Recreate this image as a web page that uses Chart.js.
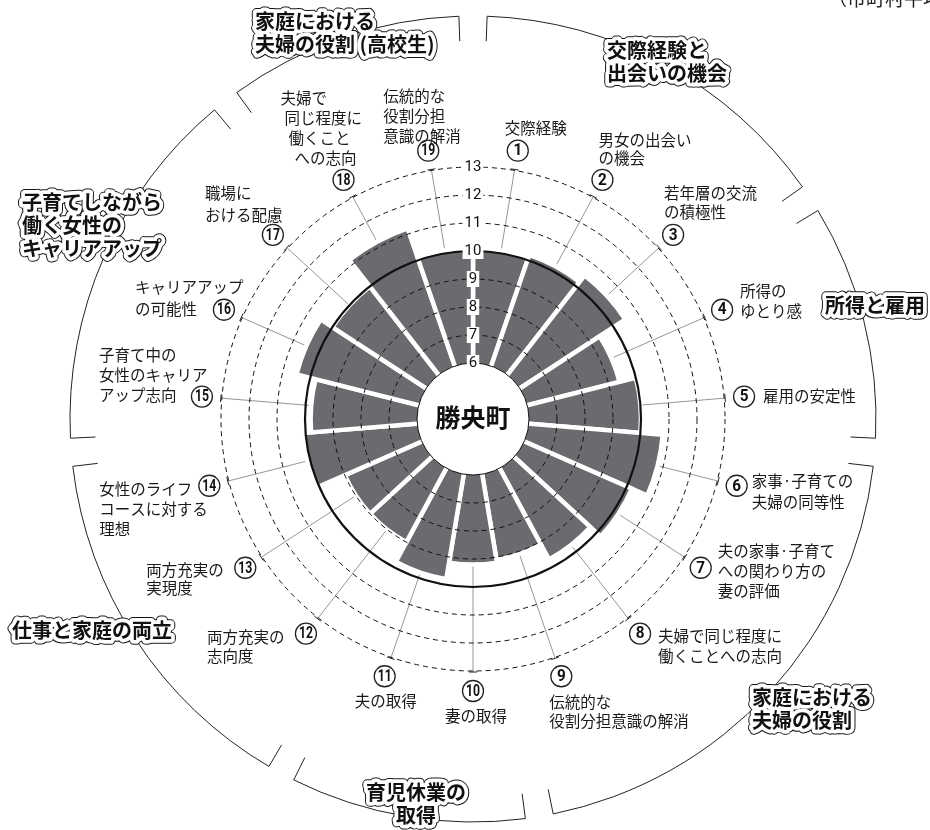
<!DOCTYPE html>
<html lang="ja">
<head>
<meta charset="utf-8">
<title>勝央町</title>
<script src="https://cdn.jsdelivr.net/npm/chart.js@4.4.1/dist/chart.umd.min.js"></script>
<style>
  html, body { margin: 0; padding: 0; background: #fff; }
</style>
</head>
<body>
<canvas id="chart" width="930" height="830"></canvas>
<script>
// 指標（①〜⑲、上から時計回り）
const categories = [
  ['交際経験'],
  ['男女の出会い', 'の機会'],
  ['若年層の交流', 'の積極性'],
  ['所得の', 'ゆとり感'],
  ['雇用の安定性'],
  ['家事·子育ての', '夫婦の同等性'],
  ['夫の家事·子育て', 'への関わり方の', '妻の評価'],
  ['夫婦で同じ程度に', '働くことへの志向'],
  ['伝統的な', '役割分担意識の解消'],
  ['妻の取得'],
  ['夫の取得'],
  ['両方充実の', '志向度'],
  ['両方充実の', '実現度'],
  ['女性のライフ', 'コースに対する', '理想'],
  ['子育て中の', '女性のキャリア', 'アップ志向'],
  ['キャリアアップ', 'の可能性'],
  ['職場に', 'おける配慮'],
  ['夫婦で', '同じ程度に', '働くこと', 'への志向'],
  ['伝統的な', '役割分担', '意識の解消']
];
const values = [10.1, 10.2, 10.5, 9.4, 10.0, 10.8, 10.2, 9.7, 9.1, 9.2, 9.8, 9.0, 9.0, 10.1, 9.8, 10.5, 10.0, 11.2, 10.1];
const tickMin = 6;
const tickMax = 13;
const average = 10;
const townName = '勝央町';
const caption = '（市町村平均＝10）';

// 分野（外周の括弧）
const groupNames = [
  ['交際経験と', '出会いの機会'],
  ['所得と雇用'],
  ['家庭における', '夫婦の役割'],
  ['育児休業の', '取得'],
  ['仕事と家庭の両立'],
  ['子育てしながら', '働く女性の', 'キャリアアップ'],
  ['家庭における', '夫婦の役割 (高校生)']
];
const groupFirst = [0, 3, 5, 9, 11, 14, 17];
const groupLast = [2, 4, 8, 10, 13, 16, 18];

// where the polar area should sit on the page
const centerX = 473.5, centerY = 419, outerRadius = 252;

// label placement relative to the numbered circle
const labelPos = [
  {dx: -13, dy: -23},
  {dx: -4, dy: -40, lh: 18},
  {dx: -9, dy: -42, lh: 19},
  {dx: 18, dy: -19},
  {dx: 19, dy: 0},
  {dx: 15, dy: -5, lh: 21},
  {dx: 17, dy: -17},
  {dx: 18, dy: 2},
  {dx: -12, dy: 26, lh: 19},
  {dx: 3, dy: 25, align: 'center'},
  {dx: 1, dy: 25, align: 'center'},
  {dx: -99, dy: 3, lh: 19},
  {dx: -99, dy: 2, lh: 18},
  {dx: -110, dy: 3},
  {dx: -103, dy: -41},
  {dx: -89, dy: -23, lh: 22},
  {dx: -68, dy: -42, lh: 22},
  {dx: [-63, -59, -55, -49], dy: -82},
  {dx: -45, dy: -55}
];
const groupPos = [
  {x: 607, y: 50},
  {x: 825, y: 305},
  {x: 752, y: 697},
  {x: 416, y: 792, align: 'center'},
  {x: 12, y: 630},
  {x: 22, y: 202},
  {x: 255, y: 21}
];

const TXT = '"Noto Sans CJK JP", sans-serif';

function badge(ctx, x, y, n) {
  ctx.beginPath();
  ctx.arc(x, y, 10.5, 0, Math.PI * 2);
  ctx.fillStyle = '#fff';
  ctx.fill();
  ctx.lineWidth = 1.3;
  ctx.strokeStyle = '#222';
  ctx.stroke();
  ctx.save();
  ctx.translate(x, y + 0.5);
  ctx.scale(n >= 10 ? 0.72 : 0.9, 1);
  ctx.font = 'bold 17px Roboto';
  ctx.textAlign = 'center';
  ctx.textBaseline = 'middle';
  ctx.fillStyle = '#111';
  ctx.fillText(String(n), 0, 0);
  ctx.restore();
}

function haloText(ctx, lines, x, y, lh, align) {
  ctx.font = 'bold 20px ' + TXT;
  ctx.textAlign = align;
  ctx.textBaseline = 'middle';
  ctx.lineJoin = 'round';
  ctx.strokeStyle = '#111';
  ctx.lineWidth = 9.5;
  lines.forEach((t, k) => ctx.strokeText(t, x, y + k * lh));
  ctx.strokeStyle = '#fff';
  ctx.lineWidth = 7.5;
  lines.forEach((t, k) => ctx.strokeText(t, x, y + k * lh));
  ctx.fillStyle = '#111';
  lines.forEach((t, k) => ctx.fillText(t, x, y + k * lh));
}

const overlay = {
  id: 'overlay',
  beforeDatasetsDraw(chart) {
    const s = chart.scales.r, ctx = chart.ctx;
    const r0 = s.getDistanceFromCenterForValue(tickMin);
    const r1 = s.getDistanceFromCenterForValue(tickMax) + 1;
    ctx.save();
    categories.forEach((c, i) => {
      const a = s.getIndexAngle(i + 0.5) - Math.PI / 2;
      const cos = Math.cos(a), sin = Math.sin(a);
      ctx.beginPath();
      ctx.moveTo(s.xCenter + r0 * cos, s.yCenter + r0 * sin);
      ctx.lineTo(s.xCenter + r1 * cos, s.yCenter + r1 * sin);
      ctx.strokeStyle = '#8a8a8a';
      ctx.lineWidth = 0.9;
      ctx.stroke();
      const tx = s.xCenter + r1 * cos, ty = s.yCenter + r1 * sin;
      ctx.beginPath();
      ctx.moveTo(tx - 4 * sin, ty + 4 * cos);
      ctx.lineTo(tx + 4 * sin, ty - 4 * cos);
      ctx.strokeStyle = '#222';
      ctx.lineWidth = 1;
      ctx.stroke();
    });
    ctx.restore();
  },
  afterDatasetsDraw(chart) {
    const s = chart.scales.r, ctx = chart.ctx;
    const r0 = s.getDistanceFromCenterForValue(tickMin);
    ctx.save();
    ctx.beginPath();
    ctx.arc(s.xCenter, s.yCenter, r0, 0, Math.PI * 2);
    ctx.fillStyle = '#fff';
    ctx.fill();
    ctx.font = 'bold 25px ' + TXT;
    ctx.textAlign = 'center';
    ctx.textBaseline = 'middle';
    ctx.fillStyle = '#111';
    ctx.fillText(townName, s.xCenter, s.yCenter - 2);
    ctx.restore();
  },
  afterDraw(chart) {
    const s = chart.scales.r, ctx = chart.ctx;
    const n = categories.length;
    const step = Math.PI * 2 / n;
    const rLab = s.getDistanceFromCenterForValue(tickMax) + 20;
    ctx.save();

    // item labels
    categories.forEach((lines, i) => {
      const a = s.getIndexAngle(i + 0.5) - Math.PI / 2;
      const cx = s.xCenter + rLab * Math.cos(a), cy = s.yCenter + rLab * Math.sin(a);
      badge(ctx, cx, cy, i + 1);
      const p = labelPos[i];
      const lh = p.lh || 20;
      ctx.font = '15.5px ' + TXT;
      ctx.textAlign = p.align || 'left';
      ctx.textBaseline = 'middle';
      ctx.fillStyle = '#1a1a1a';
      lines.forEach((t, k) => {
        const dx = Array.isArray(p.dx) ? p.dx[k] : p.dx;
        ctx.fillText(t, cx + dx, cy + p.dy + k * lh);
      });
    });

    // group brackets
    const R = s.getDistanceFromCenterForValue(tickMax) + 151;
    const pad = 0.035;
    ctx.strokeStyle = '#222';
    ctx.lineWidth = 1;
    groupNames.forEach((g, j) => {
      const a0 = s.getIndexAngle(groupFirst[j]) - Math.PI / 2 + pad;
      const a1 = a0 - 2 * pad + (groupLast[j] - groupFirst[j] + 1) * step;
      ctx.beginPath();
      ctx.moveTo(s.xCenter + (R - 25) * Math.cos(a0), s.yCenter + (R - 25) * Math.sin(a0));
      ctx.arc(s.xCenter, s.yCenter, R, a0, a1);
      ctx.lineTo(s.xCenter + (R - 25) * Math.cos(a1), s.yCenter + (R - 25) * Math.sin(a1));
      ctx.stroke();
    });
    groupNames.forEach((g, j) => {
      const p = groupPos[j];
      haloText(ctx, g, p.x, p.y, 23, p.align || 'left');
    });

    // caption, cut off by the top edge as in the original
    ctx.font = '19px ' + TXT;
    ctx.textAlign = 'left';
    ctx.textBaseline = 'middle';
    ctx.fillStyle = '#222';
    ctx.fillText(caption, 828, -1);
    ctx.restore();
  }
};

const chart = new Chart(document.getElementById('chart'), {
  type: 'polarArea',
  data: {
    labels: categories,
    datasets: [{
      data: values,
      backgroundColor: '#6a6b6f',
      borderColor: '#fff',
      borderWidth: 4.5,
      borderJoinStyle: 'miter'
    }]
  },
  options: {
    responsive: false,
    animation: false,
    devicePixelRatio: 1,
    layout: { padding: { left: 217, right: 201, top: 159, bottom: 159 } },
    plugins: { legend: { display: false }, tooltip: { enabled: false } },
    scales: {
      r: {
        min: tickMin - 2,
        max: tickMax,
        startAngle: 0,
        angleLines: { display: false },
        pointLabels: { display: false },
        grid: {
          z: 1,
          circular: true,
          color: c => c.tick.value < tickMin ? 'rgba(0,0,0,0)' : '#111',
          lineWidth: c => c.tick.value < tickMin ? 0 : (c.tick.value === average ? 2.2 : 1)
        },
        border: {
          dash: c => (c.tick.value === average || c.tick.value === tickMin) ? [] : [5, 4]
        },
        ticks: {
          z: 2,
          stepSize: 1,
          color: '#111',
          font: { family: 'Roboto', size: 15 },
          backdropColor: '#fff',
          backdropPadding: { x: 2, y: 0.5 },
          callback: v => v >= tickMin ? String(v) : ''
        }
      }
    }
  },
  plugins: [overlay]
});

// nudge the layout padding until the radial scale lands where the original sits
for (let k = 0; k < 3; k++) {
  const s = chart.scales.r;
  const pad = chart.options.layout.padding;
  const dr = outerRadius - s.drawingArea;
  const dx = centerX - s.xCenter;
  const dy = centerY - s.yCenter;
  if (Math.abs(dr) < 0.5 && Math.abs(dx) < 1 && Math.abs(dy) < 1) break;
  pad.left += dx - dr;
  pad.right += -dx - dr;
  pad.top += dy - dr;
  pad.bottom += -dy - dr;
  chart.update();
}
</script>
</body>
</html>
